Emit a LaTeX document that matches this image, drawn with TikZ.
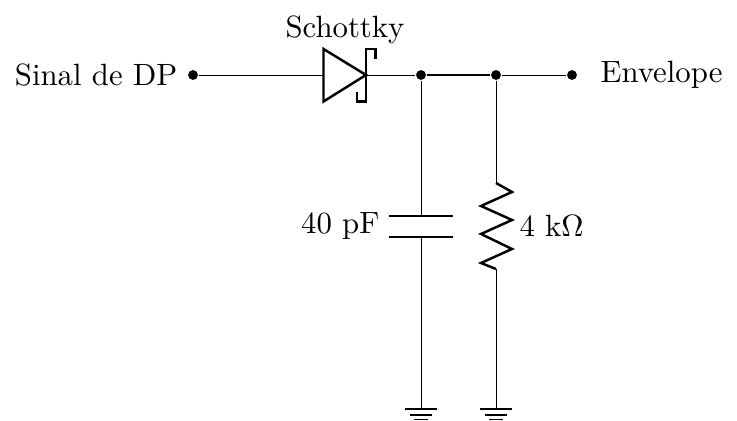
\documentclass[tikz,border=0pt]{standalone}
\begin{document}
\begin{tikzpicture}[x=0.325pt,y=-0.325pt,
  wire/.style={line width=0.28pt,black},
  comp/.style={line width=0.8pt,black,line join=miter},
  junction/.style={circle,fill=black,inner sep=0pt,minimum size=3.2pt},
  lbl/.style={inner sep=0pt,text=black}]
\useasboundingbox (0,0) rectangle (737,421);
% junctions and terminals
\node[junction] (in) at (193,75) {};
\node[junction] (j1) at (421,75) {};
\node[junction] (j2) at (496,75) {};
\node[junction] (out) at (572,75) {};
% free points
\coordinate (da) at (323.5,75);
\coordinate (dk) at (366,75);
\coordinate (c1) at (421,216);
\coordinate (c2) at (421,237);
\coordinate (r1) at (496,183);
\coordinate (r2) at (496,269);
\coordinate (g1) at (421,409);
\coordinate (g2) at (496,409);
% wires
\draw[wire] (in) -- (da);
\draw[wire] (dk) -- (j1);
\draw[wire,line width=0.5pt] (j1) -- (j2);
\draw[wire] (j2) -- (out);
\draw[wire] (j1) -- (c1);
\draw[wire] (c2) -- (g1);
\draw[wire] (j2) -- (r1);
\draw[wire] (r2) -- (g2);
% diode
\draw[comp] (da) -- (323.5,49) -- (dk) -- (323.5,101.5) -- cycle;
\draw[comp] (375.5,59) -- (375.5,49) -- (366,49) -- (366,101.5) -- (357,101.5) -- (357,92);
% capacitor
\draw[comp] (389,216) -- (453,216);
\draw[comp] (389,237) -- (453,237);
% resistor
\draw[comp] (r1) -- (512,192) -- (481,206) -- (512,220) -- (481,234) -- (512,249) -- (481,263) -- (r2);
% grounds
\draw[comp] (405,409) -- (437,409);
\draw[line width=0.6pt] (410,415) -- (432,415);
\draw[line width=0.3pt] (414,419.5) -- (428,419.5);
\draw[comp] (480,409) -- (512,409);
\draw[line width=0.6pt] (485,415) -- (507,415);
\draw[line width=0.3pt] (489,419.5) -- (503,419.5);
% labels
\node[lbl,anchor=east] (tin) at (178,75) {Sinal de DP};
\node[lbl,anchor=west] (tout) at (600,75) {Envelope};
\node[lbl] (tsch) at (345,29.5) {Schottky};
\node[lbl,anchor=east] (tc) at (380,226) {40 pF};
\node[lbl,anchor=west] (tr) at (519,226) {4 k$\Omega$};
\end{tikzpicture}
\end{document}
